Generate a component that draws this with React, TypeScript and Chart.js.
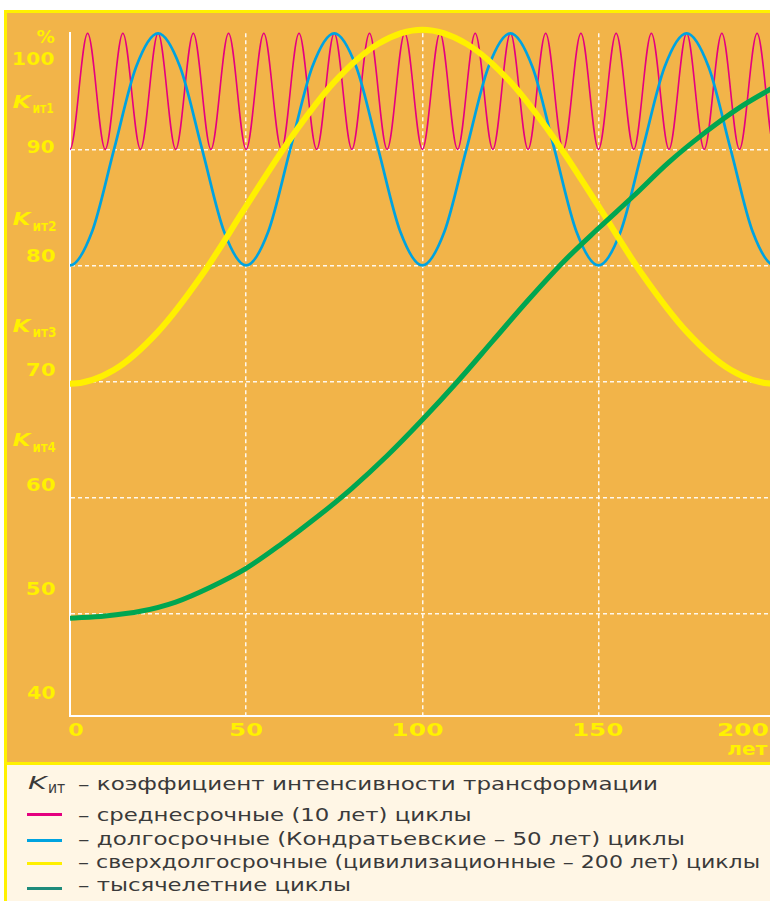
import React, { useEffect, useLayoutEffect, useRef } from "react";
import { Chart, registerables } from "chart.js";

Chart.register(...registerables);

// ---------------- DATA ----------------
// (cycles continue one step past both ends of the 0–200 window; the plot is clipped to the axes)
const pinkYears = [-5, 0, 5, 10, 15, 20, 25, 30, 35, 40, 45, 50, 55, 60, 65, 70, 75, 80, 85, 90, 95, 100, 105, 110, 115, 120, 125, 130, 135, 140, 145, 150, 155, 160, 165, 170, 175, 180, 185, 190, 195, 200, 205];
const pinkValues = [100, 90, 100, 90, 100, 90, 100, 90, 100, 90, 100, 90, 100, 90, 100, 90, 100, 90, 100, 90, 100, 90, 100, 90, 100, 90, 100, 90, 100, 90, 100, 90, 100, 90, 100, 90, 100, 90, 100, 90, 100, 90, 100];

const blueYears = [-6.25, 0, 6.25, 12.5, 18.75, 25, 31.25, 37.5, 43.75, 50, 56.25, 62.5, 68.75, 75, 81.25, 87.5, 93.75, 100, 106.25, 112.5, 118.75, 125, 131.25, 137.5, 143.75, 150, 156.25, 162.5, 168.75, 175, 181.25, 187.5, 193.75, 200, 206.25];
const blueValues = [82.9, 80, 82.9, 90, 97.1, 100, 97.1, 90, 82.9, 80, 82.9, 90, 97.1, 100, 97.1, 90, 82.9, 80, 82.9, 90, 97.1, 100, 97.1, 90, 82.9, 80, 82.9, 90, 97.1, 100, 97.1, 90, 82.9, 80, 82.9];

const yellowYears = [-12.5, 0, 12.5, 25, 37.5, 50, 62.5, 75, 87.5, 100, 112.5, 125, 137.5, 150, 162.5, 175, 187.5, 200, 212.5];
const yellowValues = [71.0, 69.8, 71.0, 74.3, 79.2, 85.1, 90.9, 95.8, 99.1, 100.3, 99.1, 95.8, 90.9, 85.1, 79.2, 74.3, 71.0, 69.8, 71.0];

const greenYears = [0, 10, 20, 30, 40, 50, 60, 70, 80, 90, 100, 110, 120, 130, 140, 150, 160, 170, 180, 190, 200];
const greenValues = [49.6, 49.8, 50.2, 51.0, 52.3, 53.9, 56.0, 58.3, 60.8, 63.6, 66.7, 70.0, 73.5, 77.0, 80.3, 83.2, 86.0, 88.9, 91.4, 93.6, 95.4];

const xTickValues = [0, 50, 100, 150, 200];
const xGridValues = [50, 100, 150];
const yGridValues = [50, 60, 70, 80, 90];
const yTickLabels = ["%", "100", "90", "80", "70", "60", "50", "40"];
const kMain = "K";
const kSubs = ["ит1", "ит2", "ит3", "ит4"];
const xUnitLabel = "лет";

const legendTitleSub = "ит";
const legendTitleText = "– коэффициент интенсивности трансформации";
const seriesNames = [
  "– среднесрочные (10 лет) циклы",
  "– долгосрочные (Кондратьевские – 50 лет) циклы",
  "– сверхдолгосрочные (цивилизационные – 200 лет) циклы",
  "– тысячелетние циклы",
];

// ---------------- STYLE / LAYOUT ----------------
const ORANGE = "#F2B449";
const YELLOW = "#FFF100";
const CREAM = "#FFF6E5";
const LABEL_YELLOW = "#FFF200";
const TEXT_DARK = "#3a3a3a";
const lineColors = ["#E4007F", "#00A3E0", "#FFF000", "#00A651"];
const legendColors = ["#E4007F", "#00A3E0", "#FFF000", "#1E8B7B"];
const lineWidths = [1.6, 2.7, 6, 5];

const CANVAS_W = 820;
const CANVAS_H = 765;
const FONT = "'DejaVu Sans'";

// y-label ink boxes: [left, right, baseline]
const Y_LABEL_BOX: number[][] = [
  [36.7, 55, 43],
  [13.3, 55, 65],
  [26.7, 55, 152.7],
  [27.3, 56, 261.7],
  [27.3, 56, 376],
  [27.3, 56, 490.7],
  [27.3, 56, 595],
  [27.3, 56, 699.3],
];
// K labels: [kLeft, kRight, kBase, subLeft, subRight, subBase]
const K_BOX: number[][] = [
  [12.7, 33.3, 108.3, 33.6, 53.3, 113],
  [12.7, 33, 225, 33.6, 56, 230.7],
  [12.7, 33, 331.7, 33.6, 56, 336.7],
  [12.7, 33, 446, 33.6, 56, 451.7],
];
// x labels, offsets relative to tick pixel: [leftOff, rightOff]
const X_LABEL_OFF: number[][] = [
  [-1.7, 13.3],
  [-15.5, 16.5],
  [-28.4, 20.6],
  [-23.5, 24.2],
  [-56.4, -6.4],
];
const X_LABEL_BASE = 736;
const X_UNIT_OFF = [-46.4, -6.4, 755];

// legend layout: [left, right, baseline, fontSize]
const LEGEND_K = [28.3, 46.7, 790, 18.5];
const LEGEND_SUB = [48.3, 66, 793.3, 15];
const LEGEND_TITLE = [78.3, 658, 790, 18];
const LEGEND_ROWS: number[][] = [
  [78.3, 471.7, 821.7, 18],
  [78.3, 685, 845, 18],
  [78.3, 760, 867.8, 18],
  [78.3, 351.7, 891, 18],
];
const LEGEND_MARK_Y = [814.3, 840.7, 863.3, 888.3];

function drawFit(
  ctx: CanvasRenderingContext2D,
  text: string,
  font: string,
  left: number,
  right: number,
  baseline: number,
  color: string
) {
  ctx.save();
  ctx.font = font;
  ctx.textAlign = "left";
  ctx.textBaseline = "alphabetic";
  const m = ctx.measureText(text);
  const ink = m.actualBoundingBoxLeft + m.actualBoundingBoxRight;
  const sx = ink > 0 ? (right - left) / ink : 1;
  ctx.translate(left + m.actualBoundingBoxLeft * sx, baseline);
  ctx.scale(sx, 1);
  ctx.fillStyle = color;
  ctx.fillText(text, 0, 0);
  ctx.restore();
}

const labelPlugin = {
  id: "customLabels",
  afterDraw(chart: any) {
    const ctx: CanvasRenderingContext2D = chart.ctx;
    const xs = chart.scales.x;
    yTickLabels.forEach((t, i) => {
      const b = Y_LABEL_BOX[i];
      drawFit(ctx, t, `bold 17px ${FONT}`, b[0], b[1], b[2], LABEL_YELLOW);
    });
    kSubs.forEach((s, i) => {
      const b = K_BOX[i];
      drawFit(ctx, kMain, `oblique bold 17px ${FONT}`, b[0], b[1], b[2], LABEL_YELLOW);
      drawFit(ctx, s, `bold 14px ${FONT}`, b[3], b[4], b[5], LABEL_YELLOW);
    });
    xTickValues.forEach((v, i) => {
      const p = xs.getPixelForValue(v);
      const o = X_LABEL_OFF[i];
      drawFit(ctx, String(v), `bold 18px ${FONT}`, p + o[0], p + o[1], X_LABEL_BASE, LABEL_YELLOW);
    });
    const p200 = xs.getPixelForValue(200);
    drawFit(ctx, xUnitLabel, `bold 18px ${FONT}`, p200 + X_UNIT_OFF[0], p200 + X_UNIT_OFF[1], X_UNIT_OFF[2], LABEL_YELLOW);
  },
};

const seriesX = [pinkYears, blueYears, yellowYears, greenYears];
const seriesY = [pinkValues, blueValues, yellowValues, greenValues];

export default function App() {
  const canvasRef = useRef<HTMLCanvasElement | null>(null);
  const spanRefs = useRef<(HTMLSpanElement | null)[]>([]);

  useEffect(() => {
    const canvas = canvasRef.current;
    if (!canvas) return;
    const datasets = seriesNames
      .map((name, i) => ({
        label: name,
        data: seriesX[i].map((x, j) => ({ x, y: seriesY[i][j] })),
        borderColor: lineColors[i],
        borderWidth: lineWidths[i],
        pointRadius: 0,
        fill: false,
        cubicInterpolationMode: "monotone" as const,
        clip: { left: 0, right: 0, top: 12, bottom: 0 },
      }))
      .reverse();
    const chart = new Chart(canvas, {
      type: "line",
      data: { datasets },
      options: {
        animation: false,
        responsive: false,
        events: [],
        layout: { padding: { left: 70, top: 33.3, right: CANVAS_W - 774.7, bottom: CANVAS_H - 716 } },
        plugins: { legend: { display: false }, tooltip: { enabled: false } },
        scales: {
          x: {
            type: "linear",
            min: 0,
            max: 200,
            afterBuildTicks: (scale: any) => {
              scale.ticks = xGridValues.map((v) => ({ value: v }));
            },
            ticks: { display: false },
            grid: { color: "rgba(255,255,255,0.9)", lineWidth: 1.5, drawTicks: false },
            border: { display: true, color: "#ffffff", width: 2, dash: [4, 3] },
          },
          y: {
            type: "linear",
            min: 41.18,
            max: 100,
            afterBuildTicks: (scale: any) => {
              scale.ticks = yGridValues.map((v) => ({ value: v }));
            },
            ticks: { display: false },
            grid: { color: "rgba(255,255,255,0.9)", lineWidth: 1.5, drawTicks: false },
            border: { display: true, color: "#ffffff", width: 2, dash: [4, 3] },
          },
        },
      },
      plugins: [labelPlugin],
    });
    return () => chart.destroy();
  }, []);

  const legendItems = [
    { text: kMain, box: LEGEND_K, italic: true },
    { text: legendTitleSub, box: LEGEND_SUB, italic: false },
    { text: legendTitleText, box: LEGEND_TITLE, italic: false },
    ...seriesNames.map((t, i) => ({ text: t, box: LEGEND_ROWS[i], italic: false })),
  ];

  useLayoutEffect(() => {
    spanRefs.current.forEach((el, i) => {
      if (!el) return;
      const b = legendItems[i].box;
      const w = el.offsetWidth;
      if (w > 0) el.style.transform = `scaleX(${(b[1] - b[0]) / w})`;
    });
  });

  return (
    <div style={{ position: "absolute", left: 0, top: 0, width: 770, height: 901, overflow: "hidden" }}>
      <div
        style={{
          position: "absolute",
          left: 4,
          top: 10,
          width: 900,
          height: 755,
          boxSizing: "border-box",
          background: ORANGE,
          borderTop: `3px solid ${YELLOW}`,
          borderLeft: `3px solid ${YELLOW}`,
          borderBottom: `3px solid ${YELLOW}`,
        }}
      />
      <div
        style={{
          position: "absolute",
          left: 4,
          top: 765,
          width: 900,
          height: 200,
          boxSizing: "border-box",
          background: CREAM,
          borderLeft: `3px solid ${YELLOW}`,
        }}
      />
      <canvas
        ref={canvasRef}
        width={CANVAS_W}
        height={CANVAS_H}
        style={{ position: "absolute", left: 0, top: 0, width: CANVAS_W, height: CANVAS_H }}
      />
      {LEGEND_MARK_Y.map((y, i) => (
        <div
          key={"m" + i}
          style={{
            position: "absolute",
            left: 26.7,
            top: y - 1.5,
            width: 35,
            height: 3,
            background: legendColors[i],
          }}
        />
      ))}
      {legendItems.map((it, i) => {
        const [left, , baseline, size] = it.box;
        return (
          <span
            key={"t" + i}
            ref={(el) => {
              spanRefs.current[i] = el;
            }}
            style={{
              position: "absolute",
              left,
              top: baseline - 0.846 * size,
              fontFamily: FONT,
              fontSize: size,
              lineHeight: 1,
              fontStyle: it.italic ? "oblique" : "normal",
              color: TEXT_DARK,
              whiteSpace: "nowrap",
              display: "inline-block",
              transformOrigin: "left center",
            }}
          >
            {it.text}
          </span>
        );
      })}
    </div>
  );
}
